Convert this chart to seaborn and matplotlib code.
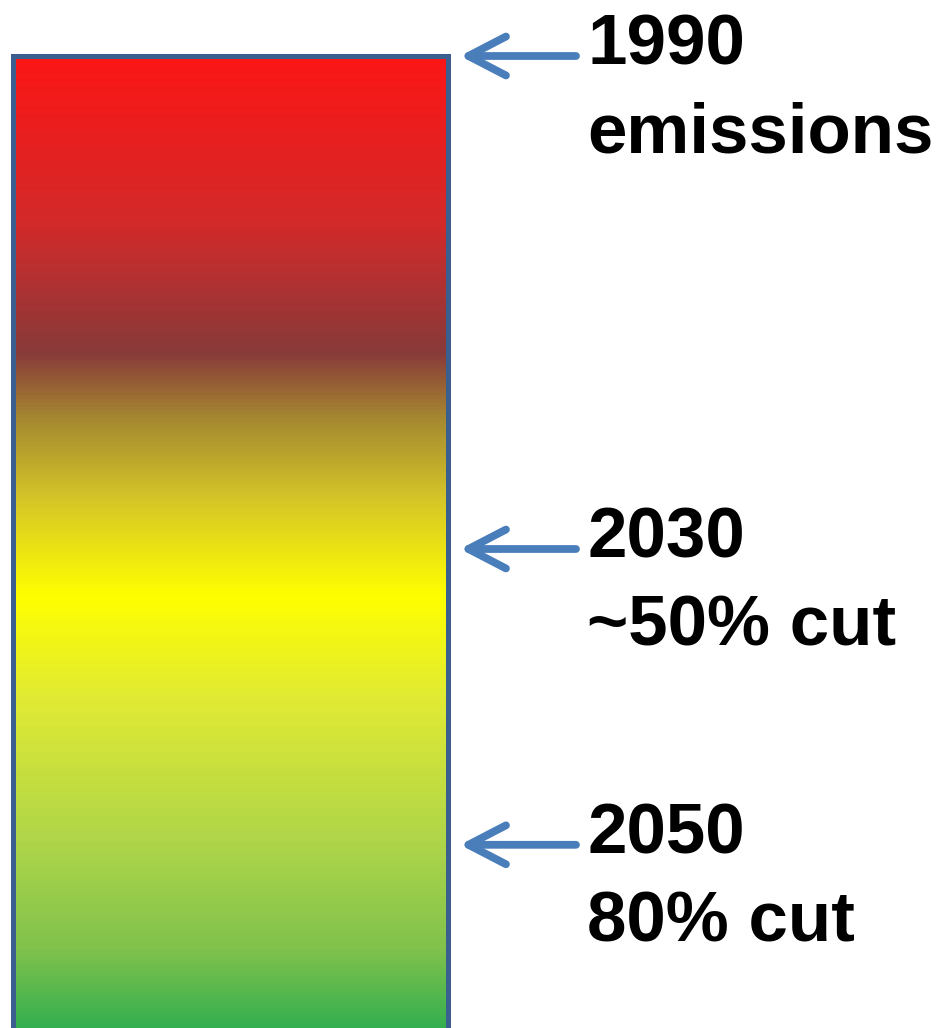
import matplotlib
matplotlib.use("Agg")
import matplotlib.pyplot as plt
import numpy as np
import pandas as pd
import seaborn as sns
from matplotlib.colors import LinearSegmentedColormap
from matplotlib.patches import FancyArrowPatch

# Emission levels as a share of 1990 emissions (%)
years = ["1990", "2030", "2050"]
notes = ["emissions", "~50% cut", "80% cut"]
levels = [100, 50, 20]

# Colour ramp of the bar, from the bottom (level 0) to the top (level 100)
ramp_pos = [0.0, 0.093, 0.195, 0.347, 0.452, 0.55, 0.631, 0.70, 0.83, 1.0]
ramp_colors = ["#28AC50", "#80C24C", "#ACD44A", "#E0EA34", "#FFFF00",
               "#D6C628", "#A68A30", "#883A3A", "#D22A2A", "#FC1616"]

BORDER = "#3A5F8F"
ARROW = "#4A7EBB"

sns.set_theme(style="white")
plt.rcParams["font.family"] = ["Liberation Sans", "DejaVu Sans"]

fig = plt.figure(figsize=(9.37, 10.28), dpi=100)
ax = fig.add_axes([0, 0, 1, 1])

df = pd.DataFrame({"label": ["emissions"], "level": [levels[0]]})
sns.barplot(data=df, x="label", y="level", ax=ax, width=1.0,
            color="white", saturation=1)
bar = ax.patches[0]
bar.set_facecolor("none")
bar.set_edgecolor(BORDER)
bar.set_linewidth(3.6)
bar.set_zorder(3)

# Vertical gradient clipped to the bar
cmap = LinearSegmentedColormap.from_list("ramp", list(zip(ramp_pos, ramp_colors)))
grad = np.linspace(0, 1, 512).reshape(-1, 1)
x0 = bar.get_x()
w = bar.get_width()
im = ax.imshow(grad, cmap=cmap, origin="lower", aspect="auto",
               extent=(x0, x0 + w, 0, levels[0]), zorder=1,
               interpolation="bilinear")
im.set_clip_path(bar)

# Axis ranges: bar spans 435 px, 9.86 px per level unit
px_x = w / 435.0
px_y = 1.0 / 9.86
left = x0 - 12.5 * px_x
ax.set_xlim(left, left + 937 * px_x)
bottom = (1042 - 1028) * px_y
ax.set_ylim(bottom, bottom + 1028 * px_y)
ax.set_axis_off()

right_edge = x0 + w
tip_x = right_edge + (460 - 447.5) * px_x
tail_x = right_edge + (576 - 447.5) * px_x
text_x = right_edge + (587 - 447.5) * px_x

for year, note, lev in zip(years, notes, levels):
    arr = FancyArrowPatch((tail_x, lev), (tip_x, lev),
                          arrowstyle="->,head_length=27,head_width=14",
                          mutation_scale=1, color=ARROW, linewidth=5.6,
                          capstyle="round", joinstyle="round",
                          shrinkA=0, shrinkB=0, zorder=4)
    ax.add_patch(arr)
    # two-line label, first line's baseline slightly below the arrow
    ax.annotate(f"{year}\n{note}", xy=(text_x, lev), xytext=(0, -69.5),
                textcoords="offset points", ha="left", va="baseline",
                fontsize=51, fontweight="bold", color="black",
                linespacing=1.43, zorder=5)

fig.savefig("out.png", dpi=100, facecolor="white")
